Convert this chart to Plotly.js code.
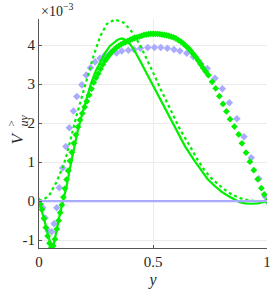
<!DOCTYPE html>
<html><head><meta charset="utf-8">
<script src="https://cdn.plot.ly/plotly-3.0.1.min.js"></script>
<style>html,body{margin:0;padding:0;background:#fff;}#plot{width:270px;height:292px;}</style>
</head><body><div id="plot"></div>
<script>
// values in units of 1e-3
const solidY = [0,0.013,0.026,0.04,0.05,0.056,0.062,0.07,0.08,0.09,0.1,0.107,0.121,0.136,0.151,0.17,0.19,0.21,0.23,0.25,0.268,0.29,0.311,0.33,0.345,0.363,0.38,0.4,0.42,0.45,0.5,0.55,0.6,0.64,0.68,0.713,0.74,0.772,0.8,0.83,0.86,0.88,0.904,0.93,0.96,0.98,1.0];
const solidV = [0,-0.25,-0.55,-0.88,-1.1,-1.2,-1.17,-0.98,-0.68,-0.38,-0.12,0,0.37,0.85,1.31,1.8,2.25,2.68,3.05,3.35,3.55,3.8,3.98,4.08,4.14,4.17,4.13,4.02,3.85,3.52,2.96,2.4,1.86,1.41,1.05,0.77,0.56,0.38,0.24,0.13,0.03,-0.03,-0.06,-0.07,-0.06,-0.03,0];

const dotY = [0,0.01,0.023,0.035,0.048,0.06,0.078,0.093,0.107,0.122,0.136,0.15,0.165,0.19,0.209,0.238,0.268,0.297,0.333,0.37,0.4,0.421,0.445,0.472,0.5,0.531,0.56,0.589,0.62,0.662,0.695,0.728,0.757,0.786,0.815,0.845,0.874,0.9,0.93,0.96,1.0];
const dotV = [0,0.01,0.05,0.1,0.18,0.3,0.5,0.72,0.9,1.2,1.5,1.85,2.2,2.7,3.06,3.7,4.22,4.54,4.66,4.58,4.4,4.22,3.98,3.66,3.3,2.9,2.54,2.2,1.82,1.41,1.06,0.77,0.58,0.43,0.29,0.17,0.09,0.04,0.01,0,0];

const gDiaY = [0,0.006,0.013,0.022,0.03,0.038,0.046,0.054,0.062,0.07,0.078,0.086,0.093,0.1,0.107,0.114,0.121,0.128,0.136,0.144,0.153,0.162,0.171,0.18,0.19,0.2,0.21,0.22,0.23,0.24,0.25,0.26,0.27,0.28,0.29,0.3,0.31,0.32,0.33,0.34,0.35,0.36,0.37,0.38,0.39,0.4,0.41,0.42,0.43,0.44,0.45,0.46,0.47,0.48,0.49,0.5,0.51,0.52,0.53,0.54,0.55,0.56,0.57,0.58,0.59,0.6,0.611,0.622,0.633,0.644,0.655,0.666,0.677,0.688,0.699,0.71,0.72,0.731,0.743,0.759,0.775,0.791,0.807,0.822,0.838,0.857,0.876,0.89,0.908,0.925,0.942,0.959,0.975,0.988,1.0];
const gDiaV = [0,-0.08,-0.22,-0.45,-0.68,-0.9,-1.08,-1.19,-1.15,-0.98,-0.72,-0.5,-0.3,-0.1,0.1,0.32,0.55,0.78,1.03,1.25,1.48,1.7,1.9,2.08,2.25,2.41,2.56,2.72,2.88,3.04,3.16,3.27,3.39,3.5,3.6,3.68,3.76,3.83,3.89,3.94,3.98,4.02,4.05,4.08,4.11,4.14,4.16,4.18,4.2,4.22,4.24,4.26,4.27,4.28,4.29,4.29,4.29,4.29,4.28,4.27,4.26,4.25,4.24,4.22,4.2,4.17,4.13,4.09,4.04,3.98,3.92,3.85,3.77,3.69,3.6,3.5,3.41,3.32,3.23,3.06,2.89,2.69,2.49,2.3,2.1,1.91,1.71,1.48,1.24,1.01,0.79,0.56,0.33,0.17,0];

const bDiaY = [0,0.016,0.026,0.041,0.056,0.066,0.078,0.089,0.104,0.118,0.133,0.151,0.166,0.188,0.207,0.226,0.246,0.268,0.289,0.314,0.34,0.363,0.392,0.417,0.445,0.477,0.506,0.534,0.563,0.592,0.618,0.648,0.677,0.709,0.738,0.772,0.804,0.835,0.868,0.899,0.931,0.964,0.993,1.0];
const bDiaV = [0,-0.17,-0.43,-0.77,-0.79,-0.58,-0.17,0.34,0.85,1.4,1.88,2.31,2.68,2.98,3.23,3.42,3.57,3.66,3.74,3.79,3.8,3.85,3.87,3.89,3.92,3.94,3.94,3.94,3.92,3.89,3.85,3.79,3.7,3.53,3.4,3.15,2.88,2.52,2.11,1.65,1.11,0.57,0.11,0];

const zeroY = [0,1];
const zeroV = [0,0];

const xTicks = [0,0.5,1];
const xTickText = ['0','0.5','1'];
const yTicks = [-1,0,1,2,3,4];
const yTickText = ['-1','0','1','2','3','4'];

const green = 'rgb(0,240,0)';
const lav = 'rgb(170,170,255)';

const traces = [
  {x:bDiaY, y:bDiaV, mode:'markers', type:'scatter', marker:{symbol:'diamond', size:5.8, color:lav}},
  {x:solidY, y:solidV, mode:'lines', type:'scatter', line:{color:green, width:2.2}},
  {x:dotY, y:dotV, mode:'lines', type:'scatter', line:{color:green, width:2.2, dash:'dot'}},
  {x:gDiaY, y:gDiaV, mode:'markers', type:'scatter', marker:{symbol:'diamond', size:5.2, color:green}},
  {x:zeroY, y:zeroV, mode:'lines', type:'scatter', line:{color:lav, width:2.2}}
];

const fam = '"Liberation Serif", "DejaVu Serif", serif';
const font = {family:fam, size:15, color:'#262626'};

const layout = {
  width:270, height:292,
  margin:{l:39, r:3, t:19, b:44},
  paper_bgcolor:'#fff', plot_bgcolor:'#fff',
  showlegend:false,
  font:font,
  xaxis:{range:[0,1], tickvals:xTicks, ticktext:xTickText, showgrid:true, gridcolor:'#ebebeb', gridwidth:1,
    zeroline:false, showline:true, linecolor:'#555', linewidth:1, ticks:'inside', ticklen:3, tickcolor:'#555',
    ticklabeloverflow:'allow',
    title:{text:'<i>y</i>', font:{family:fam, size:16, color:'#262626'}, standoff:4}, tickfont:font},
  yaxis:{range:[-1.205,4.67], tickvals:yTicks, ticktext:yTickText, showgrid:true, gridcolor:'#ebebeb', gridwidth:1,
    zeroline:false, showline:true, linecolor:'#555', linewidth:1, ticks:'inside', ticklen:3, tickcolor:'#555',
    ticklabeloverflow:'allow', tickfont:font},
  annotations:[
    {text:'×10<sup>−3</sup>', xref:'paper', yref:'paper', x:0, y:1, xanchor:'left', yanchor:'bottom', yshift:-2, showarrow:false,
      font:{family:fam, size:14, color:'#262626'}},
    {text:'<i>V</i>', xref:'paper', yref:'paper', x:0, y:0.5, xanchor:'center', yanchor:'middle', xshift:-22, yshift:-5, textangle:-90, showarrow:false,
      font:{family:fam, size:17, color:'#262626'}},
    {text:'>', xref:'paper', yref:'paper', x:0, y:0.5, xanchor:'center', yanchor:'middle', xshift:-29, yshift:10, textangle:-90, showarrow:false,
      font:{family:fam, size:11, color:'#262626'}},
    {text:'<i>uv</i>', xref:'paper', yref:'paper', x:0, y:0.5, xanchor:'center', yanchor:'middle', xshift:-16, yshift:13, textangle:-90, showarrow:false,
      font:{family:fam, size:12, color:'#262626'}}
  ]
};

Plotly.newPlot('plot', traces, layout, {staticPlot:true, displayModeBar:false});
</script>
</body></html>
